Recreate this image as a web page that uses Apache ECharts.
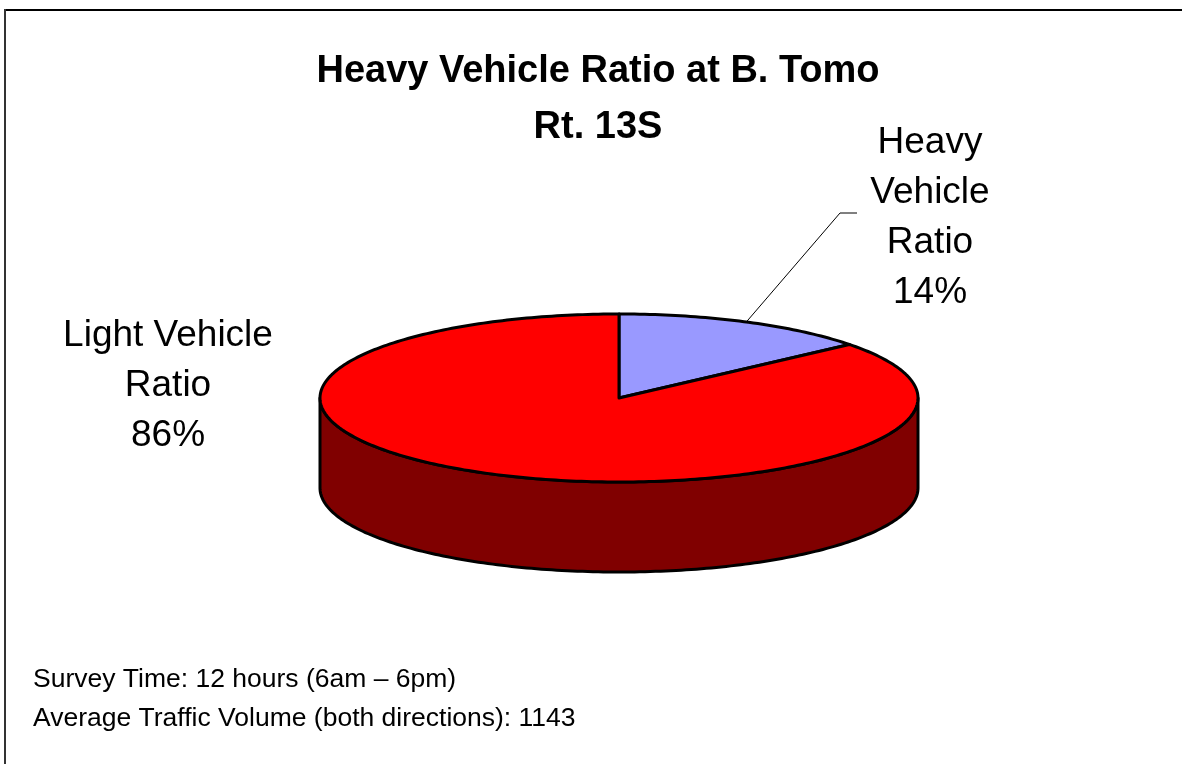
<!DOCTYPE html>
<html>
<head>
<meta charset="utf-8">
<script src="https://cdn.jsdelivr.net/npm/echarts@6.0.0/dist/echarts.min.js"></script>
<style>
  html, body { margin: 0; padding: 0; background: #fff; }
  #main { width: 1182px; height: 764px; }
</style>
</head>
<body>
<div id="main"></div>
<script>
// data
const categories = ['Heavy Vehicle Ratio', 'Light Vehicle Ratio'];
const labelText = ['Heavy\nVehicle\nRatio', 'Light Vehicle\nRatio'];
const ratios = [14, 86];
const colors = ['#9999ff', '#ff0000'];
const titleLines = ['Heavy Vehicle Ratio at B. Tomo', 'Rt. 13S'];
const notes = ['Survey Time: 12 hours (6am \u2013 6pm)', 'Average Traffic Volume (both directions): 1143'];

// layout of the tilted pie
const CX = 619, CY = 398, RX = 299, RY = 84, DEPTH = 90;
const labelPos = [[930, 218], [168, 386]];
const total = ratios.reduce((a, b) => a + b, 0);

function pt(t, dy) {
  return [CX + RX * Math.sin(t), CY - RY * Math.cos(t) + (dy || 0)];
}
function arc(a0, a1, dy) {
  const n = Math.max(2, Math.ceil((a1 - a0) / (Math.PI / 180)));
  const out = [];
  for (let k = 0; k <= n; k++) out.push(pt(a0 + (a1 - a0) * k / n, dy));
  return out;
}

function renderItem(params, api) {
  const i = params.dataIndex;
  let before = 0;
  for (let k = 0; k < i; k++) before += ratios[k];
  const v = api.value(0);
  const a0 = before / total * Math.PI * 2;
  const a1 = (before + v) / total * Math.PI * 2;
  const children = [];
  // front wall, only the part facing us
  const s0 = Math.max(a0, Math.PI / 2), s1 = Math.min(a1, Math.PI * 1.5);
  if (s1 > s0) {
    children.push({
      type: 'polygon',
      shape: { points: arc(s0, s1, 0).concat(arc(s0, s1, DEPTH).reverse()) },
      style: { fill: '#800000', stroke: '#000', lineWidth: 3, lineJoin: 'round' }
    });
  }
  children.push({
    type: 'polygon',
    shape: { points: [[CX, CY]].concat(arc(a0, a1, 0)) },
    style: { fill: colors[i], stroke: '#000', lineWidth: 3, lineJoin: 'round' }
  });
  if (i === 0) {
    const m = pt((a0 + a1) / 2, 0);
    children.push({
      type: 'polyline',
      shape: { points: [m, [840, 213], [857, 213]] },
      style: { stroke: '#000', lineWidth: 1, fill: null }
    });
  }
  children.push({
    type: 'text',
    x: labelPos[i][0], y: labelPos[i][1],
    style: {
      text: labelText[i] + '\n' + v + '%',
      font: '37px "Liberation Sans", Arial, sans-serif',
      fill: '#000', align: 'center', verticalAlign: 'middle', lineHeight: 50
    }
  });
  return { type: 'group', children: children };
}

const chart = echarts.init(document.getElementById('main'));
chart.setOption({
  animation: false,
  graphic: [
    { type: 'line', shape: { x1: 4, y1: 10, x2: 1182, y2: 10 }, style: { stroke: '#000', lineWidth: 2 } },
    { type: 'line', shape: { x1: 5, y1: 9, x2: 5, y2: 764 }, style: { stroke: '#333', lineWidth: 2 } },
    {
      type: 'text', x: 598, y: 100,
      style: {
        text: titleLines.join('\n'),
        font: 'bold 38px "Liberation Sans", Arial, sans-serif',
        fill: '#000', align: 'center', verticalAlign: 'middle', lineHeight: 56
      }
    },
    {
      type: 'text', x: 33, y: 699,
      style: {
        text: notes.join('\n'),
        font: '26.5px "Liberation Sans", Arial, sans-serif',
        fill: '#000', align: 'left', verticalAlign: 'middle', lineHeight: 39
      }
    }
  ],
  series: [{
    type: 'custom',
    coordinateSystem: 'none',
    renderItem: renderItem,
    data: ratios.map((v, i) => ({ name: categories[i], value: [v] }))
  }]
});
window.onresize = function () { chart.resize(); };
</script>
</body>
</html>
